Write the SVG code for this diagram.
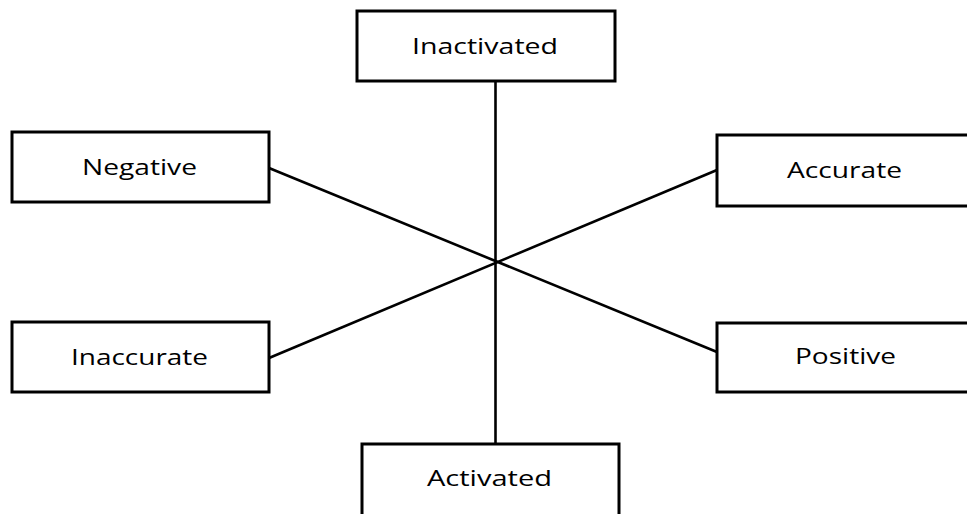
<svg xmlns="http://www.w3.org/2000/svg" width="967" height="514" viewBox="0 0 967 514">
<style>
.box{fill:#fff;stroke:#000;stroke-width:3}
.lbl{font-family:"Open Sans","DejaVu Sans",sans-serif;font-size:21px;fill:#000;text-anchor:middle}
.con{stroke:#000;stroke-width:2.6;fill:none}
</style>
<rect width="967" height="514" fill="#fff"/>
<g id="connectors">
<line class="con" x1="495.5" y1="81" x2="495.5" y2="444"/>
<line class="con" x1="269" y1="168" x2="717" y2="352"/>
<line class="con" x1="269" y1="358" x2="717" y2="170"/>
</g>
<g id="inactivated"><rect class="box" x="357" y="11" width="258" height="70"/><text class="lbl" x="485" y="54" textLength="146" lengthAdjust="spacingAndGlyphs">Inactivated</text></g>
<g id="negative"><rect class="box" x="12" y="132" width="257" height="70"/><text class="lbl" x="139.5" y="175" textLength="115" lengthAdjust="spacingAndGlyphs">Negative</text></g>
<g id="accurate"><rect class="box" x="717" y="135" width="260" height="71"/><text class="lbl" x="844.5" y="178" textLength="115" lengthAdjust="spacingAndGlyphs">Accurate</text></g>
<g id="inaccurate"><rect class="box" x="12" y="322" width="257" height="70"/><text class="lbl" x="139.5" y="365" textLength="137" lengthAdjust="spacingAndGlyphs">Inaccurate</text></g>
<g id="positive"><rect class="box" x="717" y="323" width="260" height="69"/><text class="lbl" x="845.5" y="364" textLength="101" lengthAdjust="spacingAndGlyphs">Positive</text></g>
<g id="activated"><rect class="box" x="362" y="444" width="257" height="80"/><text class="lbl" x="489.5" y="486" textLength="125" lengthAdjust="spacingAndGlyphs">Activated</text></g>
</svg>
